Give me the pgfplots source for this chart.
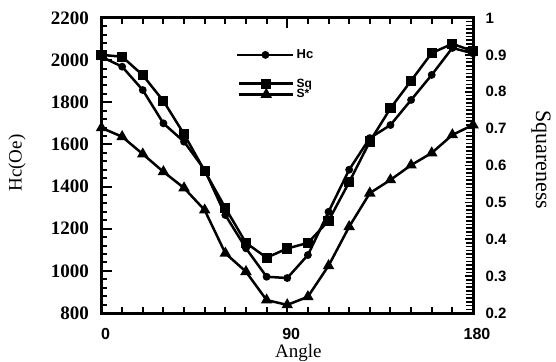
\documentclass[border=0pt]{standalone}
\usepackage{fontspec}
\setmainfont{Liberation Serif}
\setsansfont{Liberation Sans}
\usepackage{pgfplots}
\pgfplotsset{compat=1.18}
\newcommand{\fs}[1]{\fontsize{#1}{#1}\selectfont}

\begin{document}
\begin{tikzpicture}
\useasboundingbox (-101.5pt,-48pt) rectangle (454.5pt,313pt);
\begin{axis}[
  at={(0pt,0pt)}, anchor=south west,
  width=371.5pt, height=295pt, scale only axis,
  xmin=0, xmax=180, ymin=800, ymax=2200,
  xtick={0,90,180}, minor xtick={10,20,30,40,50,60,70,80,100,110,120,130,140,150,160,170},
  ytick={800,1000,1200,1400,1600,1800,2000,2200}, minor y tick num=4,
  xtick pos=both, xticklabel pos=lower, ytick pos=left,
  tick align=inside,
  major tick length=10pt, minor tick length=6pt,
  axis line style={line width=3pt},
  every tick/.style={black, line width=2pt},
  /pgf/number format/assume math mode=true,
  /pgf/number format/1000 sep={},
  yticklabel style={font=\fs{19}\bfseries\rmfamily, xshift=-9pt},
  xticklabel style={font=\fs{16}\bfseries\sffamily, yshift=-12pt, xshift=4pt},
  xlabel={Angle}, ylabel={Hc(Oe)},
  xlabel style={font=\fs{19}, at={(axis description cs:0.530,-0.134)}, anchor=center},
  ylabel style={font=\fs{19}, at={(axis description cs:-0.2275,0.508)}, anchor=center, rotate=0},
  legend image code/.code={\draw[mark repeat=2,mark phase=2,#1] plot coordinates {(0pt,0pt)(28pt,0pt)(56pt,0pt)};},
  legend style={at={(axis description cs:0.362,0.875)}, anchor=west, draw=none, fill=none, inner sep=0pt, font=\fs{13}\bfseries\sffamily},
  legend cell align=left,
  clip=false,
]
\addplot[black, line width=2.5pt, mark=*, mark size=2.6pt] coordinates {
(0,2016) (10,1969) (20,1858) (30,1700) (40,1613) (50,1479) (60,1265) (70,1107) (80,972) (90,966)
(100,1075) (110,1280) (120,1480) (130,1630) (140,1692) (150,1811) (160,1930) (170,2058) (180,2032)};
\addlegendentry{Hc}
\end{axis}
\begin{axis}[
  at={(0pt,0pt)}, anchor=south west,
  width=371.5pt, height=295pt, scale only axis,
  xmin=0, xmax=180, ymin=0.2, ymax=1,
  axis x line=none, axis y line*=right,
  ytick={0.2,0.3,0.4,0.5,0.6,0.7,0.8,0.9,1}, minor y tick num=9,
  tick align=inside,
  major tick length=8pt, minor tick length=7pt,
  axis line style={line width=3pt},
  every tick/.style={black, line width=1.6pt},
  /pgf/number format/assume math mode=true,
  yticklabel style={font=\fs{15}\bfseries\sffamily, xshift=9pt, /pgf/number format/fixed},
  ylabel={Squareness},
  ylabel style={font=\fs{22}, at={(axis description cs:1.183,0.519)}, anchor=center, rotate=180},
  legend image code/.code={\draw[mark repeat=2,mark phase=2,#1] plot coordinates {(0pt,0pt)(27pt,0pt)(54pt,0pt)};},
  legend style={at={(axis description cs:0.367,0.759)}, anchor=west, draw=none, fill=none, inner sep=0pt, row sep=-3pt, font=\fs{12}\bfseries\sffamily},
  legend cell align=left,
  clip=false,
]
\addplot[black, line width=2.5pt, mark=square*, mark size=3.8pt] coordinates {
(0,0.90) (10,0.895) (20,0.845) (30,0.775) (40,0.685) (50,0.585) (60,0.485) (70,0.39) (80,0.35) (90,0.375)
(100,0.39) (110,0.45) (120,0.555) (130,0.665) (140,0.755) (150,0.83) (160,0.905) (170,0.93) (180,0.91)};
\addlegendentry{Sq}
\addplot[black, line width=2.5pt, mark=triangle*, mark size=4.2pt] coordinates {
(0,0.702) (10,0.678) (20,0.631) (30,0.583) (40,0.539) (50,0.479) (60,0.362) (70,0.312) (80,0.235) (90,0.222)
(100,0.244) (110,0.328) (120,0.434) (130,0.525) (140,0.561) (150,0.601) (160,0.634) (170,0.683) (180,0.71)};
\addlegendentry{S*}
\end{axis}
\end{tikzpicture}
\end{document}
